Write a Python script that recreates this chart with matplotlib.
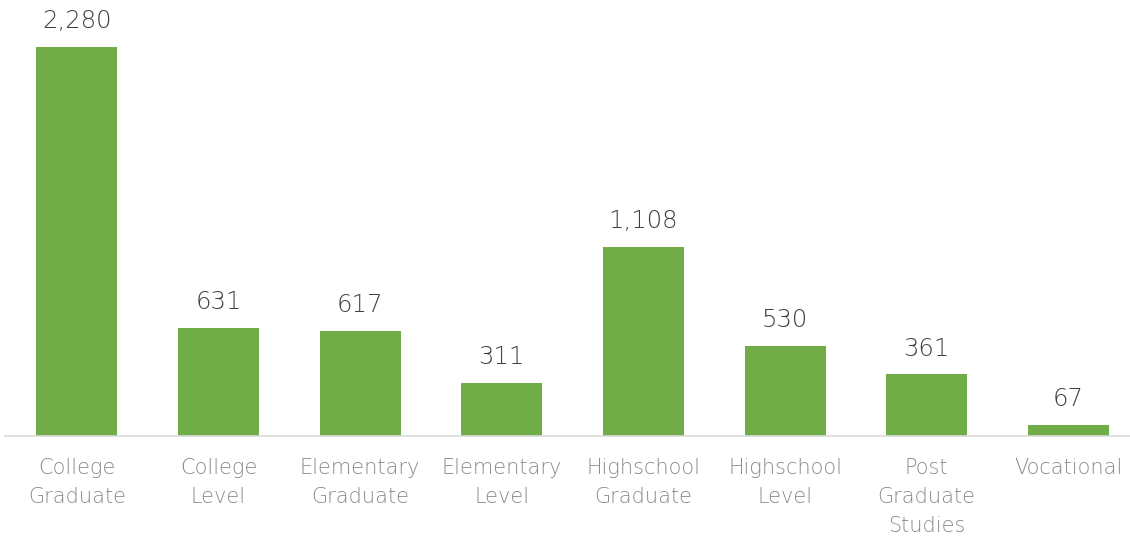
import matplotlib
matplotlib.use("Agg")
import matplotlib.pyplot as plt

categories = ["College\nGraduate", "College\nLevel", "Elementary\nGraduate", "Elementary\nLevel",
              "Highschool\nGraduate", "Highschool\nLevel", "Post\nGraduate\nStudies", "Vocational"]
values = [2280, 631, 617, 311, 1108, 530, 361, 67]

plt.rcParams['font.family'] = ['DejaVu Sans']

fig = plt.figure(figsize=(11.3, 5.37), dpi=100)
ax = fig.add_axes([5/1130, 1 - 436/537, 1 - 5/1130, 436/537])
x = list(range(len(values)))
ax.bar(x, values, width=0.572, color="#70AD47", zorder=2)
ax.set_xlim(-0.508, 7.436)
ax.set_ylim(0, 2556)
for s in ["top", "right", "left"]:
    ax.spines[s].set_visible(False)
ax.spines["bottom"].set_color("#d9d9d9")
ax.spines["bottom"].set_linewidth(1.2)
ax.set_yticks([])
ax.set_xticks(x)
ax.set_xticklabels(categories, fontsize=15, color="#8a8a8a", fontweight=200, linespacing=1.55)
ax.tick_params(axis="x", length=0, pad=16)
for xi, v in zip(x, values):
    ax.annotate(f"{v:,}", (xi, v), xytext=(0, 10), textcoords="offset points",
                ha="center", va="bottom", fontsize=17.5, color="#404040", fontweight=200)
fig.savefig("out.png", dpi=100)
